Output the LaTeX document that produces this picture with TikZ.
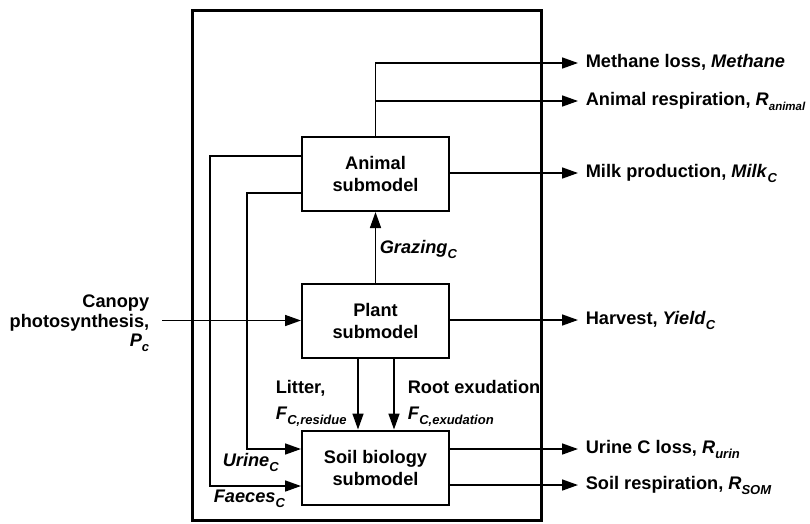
\documentclass[tikz,border=0pt]{standalone}
\usepackage{fontspec}
\setmainfont{Liberation Sans}
\usetikzlibrary{arrows.meta}
\newcommand\subx[2][13]{\raisebox{-5.5pt}{\fontsize{#1}{13}\selectfont\bfseries\itshape #2}}
\newcommand\vi[1]{\textit{#1}}
\begin{document}
\begin{tikzpicture}[x=1pt,y=-1pt,
  font=\fontsize{18.2}{22}\selectfont\bfseries,
  line width=1.6pt,
  arr/.style={-{Triangle[length=16pt,width=11pt]}},
  box/.style={draw,line width=2pt,minimum width=147pt,minimum height=74pt,align=center,inner sep=0pt},
  outlbl/.style={anchor=base west,inner xsep=7pt,inner ysep=0pt,text height=13pt,text depth=5pt},
  lbl/.style={inner sep=0pt}
]
\useasboundingbox (0,0) rectangle (810,523);
\draw[line width=3pt] (192,10) rectangle (541,520);

\node[box] (animal) at (375.5,174) {Animal\\submodel};
\node[box] (plant) at (375.5,320.5) {Plant\\submodel};
\node[box] (soil) at (375.5,467.5) {Soil biology\\submodel};

% output labels
\node[outlbl] (meth) at (578,67) {Methane loss, \vi{Methane}};
\node[outlbl] (resp) at (578,105) {Animal respiration, \vi{R}\subx[11.5]{animal}};
\node[outlbl] (milk) at (578,177) {Milk production, \vi{Milk}\subx{C}};
\node[outlbl] (harv) at (578,324) {Harvest, \vi{Yield}\subx{C}};
\node[outlbl] (urin) at (578,453) {Urine C loss, \vi{R}\subx{urin}};
\node[outlbl] (soilr) at (578,489) {Soil respiration, \vi{R}\subx{SOM}};

% canopy input
\node[lbl,anchor=base east] (can1) at (150,307) {Canopy};
\node[lbl,anchor=base east] (can2) at (150,327) {photosynthesis,};
\node[lbl,anchor=base east] (can3) at (150,346) {\vi{P}\subx{c}};
\coordinate (cin) at (162,320.5);

% flow labels
\node[lbl,anchor=base west] (graz) at (379,253) {\vi{Grazing}\subx{C}};
\node[lbl,anchor=base west] (lit1) at (275,393) {Litter,};
\node[lbl,anchor=base west] (lit2) at (275,419) {\vi{F}\subx{C,residue}};
\node[lbl,anchor=base west] (ex1) at (407,393) {Root exudation};
\node[lbl,anchor=base west] (ex2) at (407,419) {\vi{F}\subx{C,exudation}};
\node[lbl,anchor=base west] (uri) at (222,466) {\vi{Urine}\subx{C}};
\node[lbl,anchor=base west] (fae) at (213,502) {\vi{Faeces}\subx{C}};

% connectors
\draw[arr] (animal.north) |- (meth.west);
\draw[arr] (animal.north |- resp.west) -- (resp.west);
\draw[arr] (animal.east |- milk.west) -- (milk.west);
\draw[arr] (plant.north) -- (animal.south);
\draw[arr] (plant.east |- harv.west) -- (harv.west);
\draw[arr] (cin) -- (plant.west);
\draw[arr] ([xshift=-17.5pt]plant.south) -- ([xshift=-17.5pt]soil.north);
\draw[arr] ([xshift=18.5pt]plant.south) -- ([xshift=18.5pt]soil.north);
\draw[arr] (soil.east |- urin.west) -- (urin.west);
\draw[arr] (soil.east |- soilr.west) -- (soilr.west);
\draw[arr] ([yshift=18pt]animal.west) -- ++(-91,0) |- ([yshift=-18.5pt]soil.west);
\draw[arr] ([yshift=-19pt]animal.west) -- ++(-54,0) |- ([yshift=18.5pt]soil.west);
\end{tikzpicture}
\end{document}
